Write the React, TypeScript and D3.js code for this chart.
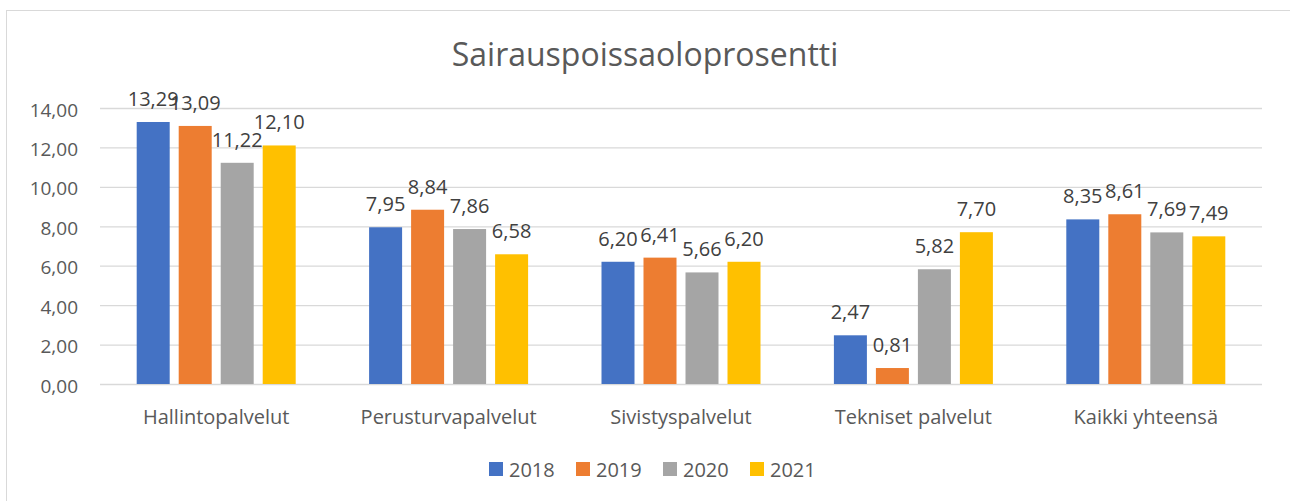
import React, { useEffect, useRef } from 'react';
import * as d3 from 'd3';

const categories = ['Hallintopalvelut', 'Perusturvapalvelut', 'Sivistyspalvelut', 'Tekniset palvelut', 'Kaikki yhteensä'];
const years = ['2018', '2019', '2020', '2021'];
const v2018 = [13.29, 7.95, 6.2, 2.47, 8.35];
const v2019 = [13.09, 8.84, 6.41, 0.81, 8.61];
const v2020 = [11.22, 7.86, 5.66, 5.82, 7.69];
const v2021 = [12.1, 6.58, 6.2, 7.7, 7.49];
const yTicks = [0, 2, 4, 6, 8, 10, 12, 14];
const colors = ['#4472C4', '#ED7D31', '#A5A5A5', '#FFC000'];

const W = 1290;
const H = 501;
const FONT = '"Open Sans", sans-serif';

export default function App() {
  const ref = useRef<SVGSVGElement>(null);

  useEffect(() => {
    const svg = d3.select(ref.current);
    svg.selectAll('*').remove();

    const fi = d3.formatLocale({ decimal: ',', thousands: ' ', grouping: [3], currency: ['', '€'] }).format('.2f');
    const series = [v2018, v2019, v2020, v2021];
    const left = 100, right = 1262, top = 108, bottom = 384;

    // outer frame
    svg.append('rect')
      .attr('x', 6.5).attr('y', 10.5)
      .attr('width', W).attr('height', H)
      .attr('fill', '#fff').attr('stroke', '#d9d9d9');

    svg.append('text')
      .attr('x', 645).attr('y', 66)
      .attr('text-anchor', 'middle')
      .style('font-family', FONT).style('font-size', '32px')
      .attr('fill', '#595959')
      .text('Sairauspoissaoloprosentti');

    const y = d3.scaleLinear().domain([0, 14]).range([bottom, top]);
    const x0 = d3.scaleBand().domain(categories).range([left, right]);
    const gw = 159;
    const off = (x0.bandwidth() - gw) / 2;
    const x1 = d3.scaleBand().domain(years).range([off, off + gw]).paddingInner(9 / 42).paddingOuter(0);

    const yAxis = svg.append('g')
      .attr('transform', `translate(${left},0)`)
      .call(d3.axisLeft(y).tickValues(yTicks).tickSize(-(right - left)).tickPadding(22).tickFormat(d => fi(d as number)));
    yAxis.select('.domain').remove();
    yAxis.selectAll('line').attr('stroke', '#d9d9d9').attr('stroke-width', 1.3);
    yAxis.selectAll('text')
      .attr('fill', '#595959')
      .attr('dy', 8)
      .style('font-family', FONT).style('font-size', '19px');

    const groups = svg.append('g').selectAll('g')
      .data(categories)
      .join('g')
      .attr('transform', d => `translate(${x0(d)},0)`);

    years.forEach((yr, si) => {
      groups.append('rect')
        .attr('x', x1(yr)!)
        .attr('width', x1.bandwidth())
        .attr('y', (d, i) => y(series[si][i]))
        .attr('height', (d, i) => bottom - y(series[si][i]))
        .attr('fill', colors[si]);
    });
    years.forEach((yr, si) => {
      groups.append('text')
        .attr('x', x1(yr)! + x1.bandwidth() / 2)
        .attr('y', (d, i) => y(series[si][i]) - 16)
        .attr('text-anchor', 'middle')
        .attr('fill', '#404040')
        .style('font-family', FONT).style('font-size', '20px')
        .text((d, i) => fi(series[si][i]));
    });

    svg.append('g').selectAll('text')
      .data(categories)
      .join('text')
      .attr('x', d => x0(d)! + x0.bandwidth() / 2)
      .attr('y', 424)
      .attr('text-anchor', 'middle')
      .attr('fill', '#595959')
      .style('font-family', FONT).style('font-size', '20px')
      .text(d => d);

    // legend
    const lg = svg.append('g').selectAll('g')
      .data(years)
      .join('g')
      .attr('transform', (d, i) => `translate(${489 + i * 87},462)`);
    lg.append('rect').attr('width', 14).attr('height', 14).attr('fill', (d, i) => colors[i]);
    lg.append('text')
      .attr('x', 20).attr('y', 14.5)
      .attr('fill', '#595959')
      .style('font-family', FONT).style('font-size', '20px')
      .text(d => d);
  }, []);

  return (
    <div style={{ position: 'absolute', left: 0, top: 0 }}>
      <svg ref={ref} width={W} height={H} style={{ display: 'block' }} />
    </div>
  );
}
